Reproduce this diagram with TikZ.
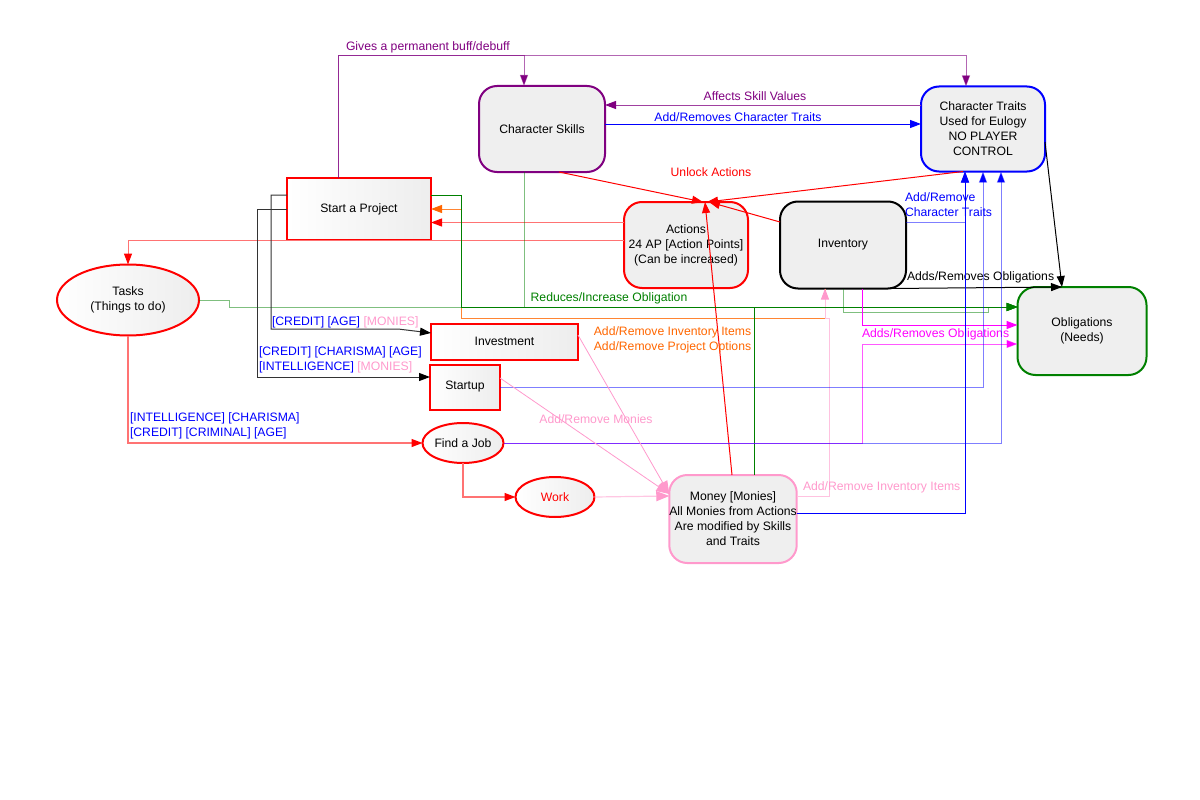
\documentclass[tikz,border=0pt]{standalone}
\usepackage{fontspec}
\setmainfont{Liberation Sans}
\usetikzlibrary{arrows.meta,shapes.geometric}
\definecolor{cpur}{HTML}{800080}
\definecolor{cblue}{HTML}{0000FF}
\definecolor{cred}{HTML}{FF0000}
\definecolor{cgreen}{HTML}{008000}
\definecolor{corange}{HTML}{FF6600}
\definecolor{cpink}{HTML}{FF99CC}
\definecolor{cmag}{HTML}{FF00FF}
\definecolor{cfill}{HTML}{EFEFEF}
\begin{document}
\begin{tikzpicture}[x=1pt,y=-1pt,
  every node/.style={font=\fontsize{12.2}{15}\selectfont, align=center, inner sep=0pt, outer sep=0pt},
  rbox/.style={draw, line width=2pt, rounded corners=18pt, fill=cfill},
  sbox/.style={draw=cred, line width=2pt, left color=white, right color=gray!14},
  ebox/.style={draw=cred, line width=2pt, ellipse, left color=white, right color=gray!14},
  lbl/.style={font=\fontsize{12.2}{15}\selectfont},
  tipc/.style={-{Triangle[length=11pt,width=8pt,color=#1]}},
  conn/.style={line width=1pt},
]
\useasboundingbox (0,0) rectangle (1200,800);

% ---------- nodes ----------
\node[rbox, draw=cpur, minimum width=126pt, minimum height=86pt] (skills) at (542,129) {Character Skills};
\node[rbox, draw=cblue, minimum width=124pt, minimum height=85pt] (traits) at (983,129) {Character Traits\\Used for Eulogy\\NO PLAYER\\CONTROL};
\node[sbox, minimum width=144pt, minimum height=62pt] (start) at (359,209) {Start a Project};
\node[rbox, draw=cred, minimum width=124pt, minimum height=86pt] (actions) at (686,245) {Actions\\24 AP [Action Points]\\(Can be increased)};
\node[rbox, draw=black, minimum width=126pt, minimum height=87pt] (inv) at (843,245) {Inventory};
\node[ebox, minimum width=142pt, minimum height=71pt] (tasks) at (128,300) {Tasks\\(Things to do)};
\node[rbox, draw=cgreen, minimum width=129pt, minimum height=88pt] (oblig) at (1082,331) {Obligations\\(Needs)};
\node[sbox, minimum width=147pt, minimum height=36pt] (invest) at (504.5,341.5) {Investment};
\node[sbox, minimum width=70pt, minimum height=45pt] (startup) at (465,387) {Startup};
\node[ebox, minimum width=81pt, minimum height=40pt] (job) at (463,443) {Find a Job};
\node[ebox, minimum width=79pt, minimum height=40pt, text=cred] (work) at (555,497) {Work};
\node[rbox, draw=cpink, minimum width=126pt, minimum height=88pt] (money) at (733,519) {Money [Monies]\\All Monies from Actions\\Are modified by Skills\\and Traits};

% ---------- purple ----------
\draw[conn, draw=cpur, draw opacity=0.6, tipc=cpur] (start.north -| 338,0) -- (338,56) -| (skills.north -| 524,0);
\draw[conn, draw=cpur, draw opacity=0.6, tipc=cpur] (start.north -| 338,0) -- (338,56) -| (traits.north -| 966,0);
\node[lbl, text=cpur, anchor=west] at (346,47.5) {Gives a permanent buff/debuff};
\draw[conn, draw=cpur!75, tipc=cpur] (traits.west |- 0,105) -- (skills.east |- 0,105);
\node[lbl, text=cpur] at (755,96) {Affects Skill Values};
\draw[conn, draw=cblue, tipc=cblue] (skills.east |- 0,124) -- (traits.west |- 0,124);
\node[lbl, text=cblue] at (738,117.5) {Add/Removes Character Traits};

% ---------- red: unlock actions ----------
\draw[conn, draw=cred, tipc=cred] (skills.south -| 559,0) -- (actions.north -| 703,0);
\draw[conn, draw=cred, tipc=cred] (traits.south -| 963,0) -- (actions.north -| 707,0);
\draw[conn, draw=cred, tipc=cred] (inv.west |- 0,222) -- (actions.north -| 709,0);
\draw[conn, draw=cred, tipc=cred] (money.north -| 732,0) -- (actions.north -| 705,0);
\node[lbl, text=cred] at (711,172.5) {Unlock Actions};

% ---------- actions to start / tasks ----------
\draw[conn, draw=cred!55, tipc=cred] (actions.west |- 0,222.5) -- (start.east |- 0,222.5);
\draw[conn, draw=cred!55, tipc=cred] (actions.west |- 0,240) -| (tasks.north);

% ---------- orange / pink inventory ----------
\draw[conn, draw=corange!80, tipc=corange] (inv.south -| 825,0) -- (825,318) -| (461,209) -- (start.east |- 0,209);
\node[lbl, text=corange] at (672.5,340) {Add/Remove Inventory Items\\Add/Remove Project Options};
\draw[conn, draw=cpink!60, tipc=cpink] (money.east |- 0,496) -| (829,318) -- (825,318) -- (inv.south -| 825,0);
\node[lbl, text=cpink, anchor=west] at (803,487) {Add/Remove Inventory Items};

% ---------- green: obligations ----------
\draw[conn, draw=cgreen, draw opacity=0.5, tipc=cgreen] (tasks.east) -- (229,300) |- (oblig.west |- 0,307);
\draw[conn, draw=cgreen, tipc=cgreen] (start.east |- 0,195) -| (461,307) -- (oblig.west |- 0,307);
\draw[conn, draw=cgreen, draw opacity=0.5, tipc=cgreen] (skills.south -| 524,0) |- (oblig.west |- 0,307);
\draw[conn, draw=cgreen, tipc=cgreen] (money.north -| 754,0) |- (oblig.west |- 0,307);
\draw[conn, draw=cgreen, draw opacity=0.5, tipc=cgreen] (inv.south -| 843,0) |- (988,312) |- (oblig.west |- 0,307);
\node[lbl, text=cgreen] at (609,298) {Reduces/Increase Obligation};

% ---------- black: obligations ----------
\draw[conn, draw=black, tipc=black] (inv.south -| 890,0) -- (oblig.north -| 1062,0);
\draw[conn, draw=black, tipc=black] (traits.east |- 0,142) -- (oblig.north -| 1062,0);
\node[lbl, anchor=west] at (907,277) {Adds/Removes Obligations};

% ---------- magenta ----------
\draw[conn, draw=cmag, tipc=cmag] (inv.south -| 862,0) |- (oblig.west |- 0,325);
\draw[conn, draw=cmag, draw opacity=0.65, tipc=cmag] (job.east) -| (862,344) -- (oblig.west |- 0,344);
\node[lbl, text=cmag, anchor=west] at (862,334.5) {Adds/Removes Obligations};

% ---------- blue to traits ----------
\draw[conn, draw=cblue, draw opacity=0.5, tipc=cblue] (job.east) -| (traits.south -| 1001,0);
\draw[conn, draw=cblue, draw opacity=0.5, tipc=cblue] (startup.east |- 0,387) -| (traits.south -| 983,0);
\draw[conn, draw=cblue, tipc=cblue] (money.east |- 0,513) -| (traits.south -| 965,0);
\draw[conn, draw=cblue, draw opacity=0.5, tipc=cblue] (inv.east |- 0,222) -| (traits.south -| 965,0);
\node[lbl, text=cblue, align=left, anchor=west] at (905,205) {Add/Remove\\Character Traits};

% ---------- pink monies ----------
\draw[line width=0.8pt, draw=cpink, -{Triangle[length=13pt,width=10pt,color=cpink]}] (invest.east |- 0,335) -- (money.west |- 0,494);
\draw[line width=0.8pt, draw=cpink, -{Triangle[length=13pt,width=10pt,color=cpink]}] (startup.east |- 0,378) -- (money.west |- 0,494);
\draw[line width=1.2pt, draw=cpink!55, -{Triangle[length=13pt,width=10pt,color=cpink]}] (work.east) -- (money.west |- 0,496);
\node[lbl, text=cpink] at (596,419.5) {Add/Remove Monies};

% ---------- black: start to investment / startup ----------
\draw[conn, draw=black!80, tipc=black] (start.west |- 0,209) -| (257,377) -- (startup.west |- 0,377);
\draw[conn, draw=black!80, tipc=black] (start.west |- 0,195) -| (271,329) -- (398,329) -- (invest.west |- 0,333);
\node[lbl, text=cblue, anchor=west] at (272,322) {[CREDIT] [AGE] \textcolor{cpink}{[MONIES]}};
\node[lbl, text=cblue, align=left, anchor=west] at (259,360) {[CREDIT] [CHARISMA] [AGE]\\{}[INTELLIGENCE] \textcolor{cpink}{[MONIES]}};

% ---------- tasks / job / work ----------
\draw[line width=1.2pt, draw=cred!55, tipc=cred] (tasks.south) |- (job.west);
\node[lbl, text=cblue, align=left, anchor=west] at (130,426) {[INTELLIGENCE] [CHARISMA]\\{}[CREDIT] [CRIMINAL] [AGE]};
\draw[line width=1.2pt, draw=cred!55, tipc=cred] (job.south) |- (work.west);
\end{tikzpicture}
\end{document}
